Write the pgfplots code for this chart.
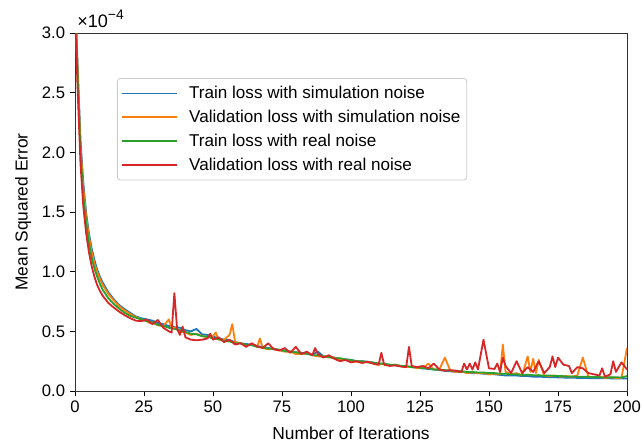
\documentclass[border=0pt]{standalone}
\usepackage{pgfplots}
\pgfplotsset{compat=1.18}
\usepackage{fontspec}
\setmainfont{Liberation Sans}
\definecolor{mplblue}{HTML}{1F77B4}
\definecolor{mplorange}{HTML}{FF7F0E}
\definecolor{mplgreen}{HTML}{2CA02C}
\definecolor{mplred}{HTML}{D62728}
\begin{document}
\begin{tikzpicture}
\begin{axis}[
  scale only axis,
  width=397.44pt, height=257.76pt,
  xmin=0, xmax=200, ymin=0, ymax=3,
  xtick={0,25,...,200},
  ytick={0,0.5,...,3},
  tick align=outside,
  xtick pos=left, ytick pos=left,
  major tick length=3.6pt,
  tick style={black, line width=0.6pt},
  axis line style={line width=0.6pt, black!80},
  /pgf/number format/assume math mode=true,
  yticklabel style={/pgf/number format/.cd, fixed, fixed zerofill, precision=1},
  xticklabel style={/pgf/number format/.cd, fixed},
  tick label style={font=\fontsize{12}{14}\selectfont},
  every axis y label/.style={at={(axis description cs:-0.094,0.5)},rotate=90,anchor=center,font=\fontsize{12.5}{14}\selectfont},
  every axis x label/.style={at={(axis description cs:0.5,-0.117)},anchor=center,font=\fontsize{12.5}{14}\selectfont},
  xlabel={Number of Iterations},
  ylabel={Mean Squared Error},
  legend style={at={(axis description cs:0.076,0.874)}, anchor=north west,
    draw=black!20, rounded corners=2pt, line width=0.6pt,
    font=\fontsize{12.3}{14}\selectfont, row sep=2.8pt, column sep=6.4pt, inner xsep=2.5pt, inner ysep=3.5pt,
    fill=white},
  legend cell align=left,
  legend image code/.code={\draw[#1,line width=1.2pt,sharp corners] (0pt,0pt) -- (39.6pt,0pt);},
  clip=true,
]
\addplot[color=mplblue, line width=1.3pt, line join=round] coordinates {
(0,3.3)(1,2.7)(2,2.1)(3,1.75)(4,1.5)(5,1.33)(6,1.2)(7,1.1)(8,1.02)(9,0.96)(10,0.91)(12,0.83)(14,0.77)(16,0.72)(18,0.685)(20,0.655)
(22,0.625)(24,0.61)(26,0.60)(28,0.59)(30,0.57)(32,0.56)(34,0.545)(36,0.535)(38,0.53)(40,0.51)(42,0.50)(44,0.52)(46,0.475)(48,0.47)(50,0.455)
(52,0.445)(54,0.43)(56,0.425)(58,0.41)(60,0.40)(62,0.395)(64,0.385)(66,0.375)(68,0.37)(70,0.36)(72,0.35)(74,0.345)(76,0.34)(78,0.33)(80,0.325)
(82,0.32)(84,0.31)(86,0.305)(88,0.33)(90,0.29)(92,0.285)(94,0.28)(96,0.27)(98,0.265)(100,0.26)(102,0.25)(104,0.25)(106,0.245)(108,0.235)(110,0.23)
(112,0.225)(114,0.22)(116,0.215)(118,0.21)(120,0.205)(122,0.20)(124,0.195)(126,0.19)(128,0.185)(130,0.18)(132,0.175)(134,0.17)(136,0.165)(138,0.16)(140,0.16)
(142,0.155)(144,0.15)(146,0.15)(148,0.145)(150,0.14)(152,0.14)(154,0.135)(156,0.13)(158,0.13)(160,0.13)(162,0.125)(164,0.125)(166,0.12)(168,0.12)(170,0.118)
(172,0.116)(174,0.115)(176,0.113)(178,0.112)(180,0.112)(182,0.11)(184,0.11)(186,0.108)(188,0.108)(190,0.107)(192,0.107)(194,0.106)(196,0.106)(198,0.105)(200,0.105)
};
\addlegendentry{Train loss with simulation noise}
\addplot[color=mplorange, line width=1.3pt, line join=round] coordinates {
(0,3.3)(1,2.65)(2,2.05)(3,1.7)(4,1.47)(5,1.3)(6,1.17)(7,1.07)(8,1.0)(9,0.94)(10,0.89)(12,0.815)(14,0.76)(16,0.71)(18,0.675)(20,0.645)
(22,0.62)(24,0.60)(26,0.585)(27,0.57)(28,0.575)(30,0.55)(32,0.545)(34,0.60)(35,0.53)(36,0.53)(38,0.50)(40,0.49)(42,0.47)(44,0.48)(46,0.46)(48,0.45)(50,0.46)(51,0.49)
(52,0.43)(54,0.43)(56,0.47)(57,0.56)(58,0.41)(60,0.40)(62,0.385)(64,0.39)(66,0.37)(67,0.44)(68,0.36)(70,0.35)(72,0.355)(74,0.34)(76,0.33)(78,0.33)(80,0.31)
(82,0.31)(84,0.315)(86,0.30)(88,0.29)(90,0.29)(92,0.28)(94,0.28)(96,0.265)(98,0.26)(100,0.25)(102,0.245)(104,0.24)(106,0.245)(108,0.23)(110,0.22)
(112,0.23)(114,0.215)(116,0.22)(118,0.21)(120,0.20)(122,0.205)(124,0.19)(126,0.19)(128,0.23)(130,0.18)(132,0.18)(134,0.28)(136,0.17)(138,0.16)(140,0.165)
(142,0.15)(144,0.155)(146,0.15)(148,0.15)(150,0.14)(152,0.145)(154,0.14)(155,0.39)(156,0.16)(158,0.14)(160,0.15)(162,0.13)(164,0.29)(165,0.16)(166,0.27)(167,0.15)(168,0.26)(170,0.13)
(172,0.125)(174,0.13)(176,0.12)(178,0.125)(180,0.12)(182,0.13)(184,0.28)(186,0.12)(188,0.115)(190,0.12)(192,0.11)(194,0.115)(196,0.11)(198,0.11)(200,0.36)
};
\addlegendentry{Validation loss with simulation noise}
\addplot[color=mplgreen, line width=1.3pt, line join=round] coordinates {
(0,3.4)(1,2.6)(2,2.0)(3,1.63)(4,1.42)(5,1.25)(6,1.12)(7,1.03)(8,0.96)(9,0.9)(10,0.85)(12,0.78)(14,0.73)(16,0.69)(18,0.655)(20,0.63)
(22,0.615)(24,0.60)(26,0.585)(28,0.575)(30,0.555)(32,0.545)(34,0.53)(36,0.52)(38,0.51)(40,0.495)(42,0.48)(44,0.475)(46,0.46)(48,0.455)(50,0.44)
(52,0.435)(54,0.42)(56,0.415)(58,0.40)(60,0.40)(62,0.385)(64,0.385)(66,0.37)(68,0.365)(70,0.355)(72,0.355)(74,0.345)(76,0.335)(78,0.33)(80,0.325)
(82,0.315)(84,0.315)(86,0.30)(88,0.30)(90,0.29)(92,0.285)(94,0.275)(96,0.275)(98,0.265)(100,0.26)(102,0.25)(104,0.25)(106,0.24)(108,0.24)(110,0.23)
(112,0.23)(114,0.22)(116,0.22)(118,0.21)(120,0.21)(122,0.20)(124,0.20)(126,0.19)(128,0.19)(130,0.18)(132,0.18)(134,0.175)(136,0.17)(138,0.17)(140,0.165)
(142,0.16)(144,0.16)(146,0.155)(148,0.155)(150,0.15)(152,0.15)(154,0.145)(156,0.145)(158,0.14)(160,0.14)(162,0.135)(164,0.137)(166,0.132)(168,0.133)(170,0.128)
(172,0.13)(174,0.125)(176,0.126)(178,0.122)(180,0.122)(182,0.12)(184,0.12)(186,0.118)(188,0.118)(190,0.116)(192,0.116)(194,0.114)(196,0.115)(198,0.113)(200,0.125)
};
\addlegendentry{Train loss with real noise}
\addplot[color=mplred, line width=1.3pt, line join=round] coordinates {
(0,3.2)(1,2.5)(2,1.9)(3,1.55)(4,1.33)(5,1.17)(6,1.05)(7,0.96)(8,0.89)(9,0.84)(10,0.8)(12,0.74)(14,0.70)(16,0.665)(18,0.635)(20,0.61)
(22,0.59)(24,0.585)(26,0.60)(28,0.56)(30,0.595)(32,0.53)(34,0.50)(35,0.49)(36,0.82)(37,0.52)(38,0.47)(39,0.54)(40,0.45)(42,0.43)(44,0.425)(46,0.43)(48,0.44)(49,0.48)(50,0.43)
(52,0.45)(54,0.41)(56,0.43)(58,0.39)(60,0.40)(62,0.37)(64,0.40)(66,0.375)(68,0.36)(70,0.40)(72,0.35)(74,0.34)(76,0.36)(78,0.32)(80,0.37)
(82,0.31)(84,0.33)(86,0.30)(87,0.36)(88,0.31)(90,0.28)(92,0.30)(94,0.27)(96,0.25)(98,0.26)(100,0.24)(102,0.25)(104,0.235)(106,0.245)(108,0.23)(110,0.22)(111,0.32)
(112,0.22)(114,0.21)(116,0.215)(118,0.205)(120,0.20)(121,0.37)(122,0.21)(124,0.20)(126,0.21)(128,0.19)(130,0.23)(132,0.18)(134,0.17)(136,0.175)(138,0.17)(140,0.16)(141,0.23)
(142,0.18)(143,0.23)(144,0.18)(145,0.24)(146,0.18)(148,0.43)(150,0.19)(152,0.185)(153,0.23)(154,0.16)(155,0.28)(156,0.21)(158,0.15)(160,0.25)(162,0.15)(164,0.20)(166,0.16)(168,0.25)(170,0.15)
(172,0.20)(173,0.29)(174,0.20)(175,0.28)(177,0.22)(179,0.21)(180,0.15)(182,0.20)(184,0.19)(186,0.15)(188,0.14)(190,0.13)(191,0.19)(192,0.12)(194,0.14)(195,0.25)(196,0.16)(198,0.24)(200,0.18)
};
\addlegendentry{Validation loss with real noise}
\end{axis}
\node[anchor=base west, inner sep=0pt, font=\fontsize{13}{15}\selectfont] at (1.5pt,4.3pt) [yshift=257.76pt] {×10\raisebox{0.42em}{\fontsize{10}{12}\selectfont −4}};
\pgfresetboundingbox
\path (-54pt,-38.16pt) rectangle (408.24pt,281.52pt);
\end{tikzpicture}
\end{document}
